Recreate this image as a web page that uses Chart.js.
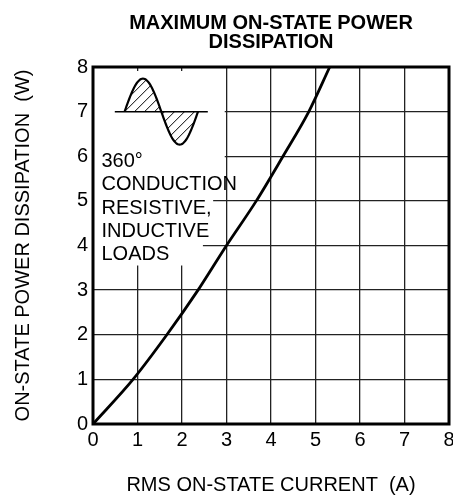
<!DOCTYPE html>
<html>
<head>
<meta charset="utf-8">
<script src="https://cdn.jsdelivr.net/npm/chart.js@4.4.1/dist/chart.umd.min.js"></script>
<style>
  html, body { margin: 0; padding: 0; background: #fff; }
  #wrap { width: 453px; height: 498px; }
</style>
</head>
<body>
<div id="wrap"><canvas id="chart"></canvas></div>
<script>
const rmsCurrent = [0, 0.9, 1.66, 2.36, 3.0, 3.67, 4.27, 4.85, 5.32];
const powerDiss  = [0, 1, 2, 3, 4, 5, 6, 7, 8];
const xTickValues = [0, 1, 2, 3, 4, 5, 6, 7, 8];
const yTickValues = [0, 1, 2, 3, 4, 5, 6, 7, 8];
const titleLines = ['MAXIMUM ON-STATE POWER', 'DISSIPATION'];
const xTitle = 'RMS ON-STATE CURRENT  (A)';
const yTitle = 'ON-STATE POWER DISSIPATION  (W)';
const noteLines = ['360°', 'CONDUCTION', 'RESISTIVE,', 'INDUCTIVE', 'LOADS'];

const FONT = '"Liberation Sans", Arial, Helvetica, sans-serif';

// ── Inset: blank grid, hatched sine wave, note text ──
const insetPlugin = {
  id: 'inset',
  beforeDatasetsDraw(chart) {
    const { ctx, chartArea: a, scales: { x, y } } = chart;
    ctx.save();

    // white patch behind the note
    ctx.fillStyle = '#fff';
    ctx.beginPath();
    ctx.moveTo(a.left + 1, a.top + 4);
    ctx.lineTo(x.getPixelForValue(2.96), a.top + 4);
    ctx.lineTo(x.getPixelForValue(2.96), y.getPixelForValue(5.5));
    ctx.lineTo(x.getPixelForValue(2.7), y.getPixelForValue(5.5));
    ctx.lineTo(x.getPixelForValue(2.7), y.getPixelForValue(4.5));
    ctx.lineTo(x.getPixelForValue(2.47), y.getPixelForValue(4.5));
    ctx.lineTo(x.getPixelForValue(2.47), y.getPixelForValue(3.55));
    ctx.lineTo(a.left + 1, y.getPixelForValue(3.55));
    ctx.closePath();
    ctx.fill();

    // sine wave symbol
    const y0 = y.getPixelForValue(7);
    const xa = x.getPixelForValue(0.49), xb = x.getPixelForValue(2.58);
    const s0 = x.getPixelForValue(0.71), s1 = x.getPixelForValue(2.36);
    const amp = 33;
    const wave = new Path2D();
    wave.moveTo(s0, y0);
    for (let i = 1; i <= 80; i++) {
      const t = i / 80;
      wave.lineTo(s0 + t * (s1 - s0), y0 - amp * Math.sin(2 * Math.PI * t));
    }
    const fillArea = new Path2D(wave);
    fillArea.closePath();

    ctx.save();
    ctx.clip(fillArea);
    ctx.strokeStyle = '#000';
    ctx.lineWidth = 1;
    for (let px = s0 - 80; px < s1 + 10; px += 10) {
      ctx.beginPath();
      ctx.moveTo(px, y0 + 40);
      ctx.lineTo(px + 80, y0 - 40);
      ctx.stroke();
    }
    ctx.restore();

    ctx.strokeStyle = '#000';
    ctx.lineWidth = 1.5;
    ctx.beginPath();
    ctx.moveTo(xa, y0);
    ctx.lineTo(xb, y0);
    ctx.stroke();
    ctx.lineWidth = 2.2;
    ctx.stroke(wave);

    // note text
    ctx.fillStyle = '#000';
    ctx.font = '20px ' + FONT;
    ctx.textAlign = 'left';
    ctx.textBaseline = 'alphabetic';
    noteLines.forEach((line, i) => {
      ctx.fillText(line, a.left + 8.5, a.top + 100 + i * 23.3);
    });
    ctx.restore();
  },
  afterDraw(chart) {
    const { ctx, chartArea: a } = chart;
    ctx.save();
    ctx.strokeStyle = '#000';
    ctx.lineWidth = 3;
    ctx.strokeRect(a.left, a.top, a.right - a.left, a.bottom - a.top);
    ctx.restore();
  },
};

const axisFont = { family: FONT, size: 20 };

new Chart(document.getElementById('chart'), {
  type: 'line',
  data: {
    datasets: [{
      data: rmsCurrent.map((v, i) => ({ x: v, y: powerDiss[i] })),
      borderColor: '#000',
      borderWidth: 2.8,
      pointRadius: 0,
      fill: false,
      cubicInterpolationMode: 'monotone',
    }],
  },
  options: {
    responsive: true,
    maintainAspectRatio: false,
    animation: false,
    layout: { padding: { left: 0, right: 0, top: 0, bottom: 0 } },
    plugins: {
      legend: { display: false },
      tooltip: { enabled: false },
      title: {
        display: true,
        text: titleLines,
        color: '#000',
        font: { family: FONT, size: 20, weight: 'bold', lineHeight: 0.95 },
        padding: { top: 13.5, bottom: 15.5 },
        fullSize: false,
      },
    },
    scales: {
      x: {
        type: 'linear',
        min: 0,
        max: 8,
        afterBuildTicks: s => { s.ticks = xTickValues.map(v => ({ value: v })); },
        afterFit: s => { s.height = 74; s.paddingRight = 4; s.paddingLeft = 0; },
        ticks: { color: '#000', font: axisFont, padding: 4, maxRotation: 0 },
        grid: { color: '#222', lineWidth: 1.3, drawTicks: false },
        border: { display: false },
        title: { display: true, text: xTitle, color: '#000', font: axisFont, padding: { top: 0, bottom: 1 } },
      },
      y: {
        type: 'linear',
        min: 0,
        max: 8,
        afterBuildTicks: s => { s.ticks = yTickValues.map(v => ({ value: v })); },
        afterFit: s => { s.width = 93; },
        ticks: { color: '#000', font: axisFont, padding: 5 },
        grid: { color: '#222', lineWidth: 1.3, drawTicks: false },
        border: { display: false },
        title: { display: true, text: yTitle, color: '#000', font: axisFont, padding: { top: 11, bottom: 0 } },
      },
    },
  },
  plugins: [insetPlugin],
});
</script>
</body>
</html>
